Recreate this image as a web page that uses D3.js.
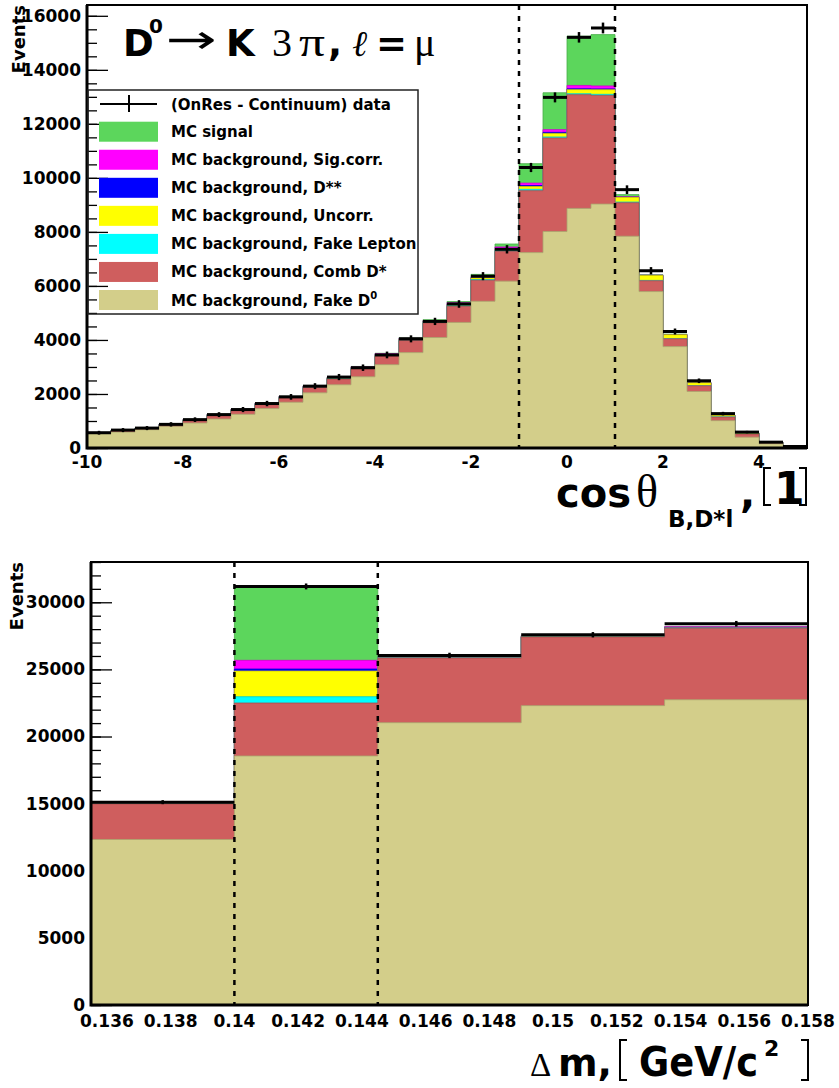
<!DOCTYPE html>
<html>
<head>
<meta charset="utf-8">
<script src="https://cdn.jsdelivr.net/npm/d3@7"></script>
<style>
  body { margin: 0; background: #fff; }
</style>
</head>
<body>
<div id="chart"></div>
<script>

//---- top panel: cos theta_B,D*l (bins of 0.5)
var cosEdges = [-10, -9.5, -9, -8.5, -8, -7.5, -7, -6.5, -6, -5.5, -5, -4.5, -4, -3.5, -3, -2.5,
                -2, -1.5, -1, -0.5, 0, 0.5, 1, 1.5, 2, 2.5, 3, 3.5, 4, 4.5, 5];
var cosData    = [566, 663, 737, 875, 1050, 1236, 1423, 1646, 1892, 2290, 2626, 2973, 3445, 4041, 4686,
                  5332, 6362, 7356, 10384, 12980, 15203, 15549, 9564, 6562, 4313, 2488, 1273, 589, 216, 56];
var cosErr     = [70, 75, 75, 80, 85, 90, 95, 100, 105, 110, 115, 120, 125, 130, 135,
                  140, 150, 155, 170, 185, 195, 200, 160, 135, 110, 85, 65, 45, 30, 20];
var cosFakeD0  = [528, 589, 677, 800, 924, 1074, 1248, 1459, 1695, 2042, 2340, 2637, 3085, 3531, 4090,
                  4650, 5432, 6177, 7233, 8014, 8871, 9031, 7840, 5791, 3754, 2093, 1013, 402, 156, 40];
var cosCombDs  = [28, 60, 48, 60, 106, 140, 152, 160, 170, 200, 211, 290, 320, 450, 540,
                  595, 781, 1104, 2294, 3464, 4209, 4023, 1240, 399, 287, 209, 134, 112, 42, 10];
var cosFakeLep = [3, 4, 4, 5, 6, 6, 7, 8, 8, 10, 12, 14, 16, 18, 20,
                  22, 24, 30, 50, 38, 37, 40, 26, 15, 13, 8, 6, 4, 2, 1];
var cosUncorr  = [4, 5, 5, 6, 8, 10, 12, 14, 16, 18, 20, 24, 28, 40, 40,
                  40, 60, 60, 100, 130, 150, 170, 175, 180, 140, 105, 55, 35, 12, 3];
var cosDss     = [1, 1, 2, 2, 2, 3, 3, 3, 4, 4, 5, 6, 8, 8, 10,
                  10, 10, 12, 40, 40, 30, 30, 5, 3, 2, 1, 1, 1, 0, 0];
var cosSigCorr = [3, 4, 5, 6, 8, 10, 12, 14, 18, 16, 18, 30, 30, 20, 20,
                  60, 40, 60, 90, 100, 125, 110, 20, 8, 5, 3, 2, 1, 1, 0];
var cosSignal  = [2, 3, 4, 5, 6, 8, 9, 10, 12, 14, 16, 18, 20, 24, 30,
                  44, 80, 110, 720, 1366, 1825, 1900, 75, 20, 15, 10, 10, 8, 4, 2];
var cosCuts = [-1, 1];
var cosYTicks = [0, 2000, 4000, 6000, 8000, 10000, 12000, 14000, 16000];
var cosXTicks = [-10, -8, -6, -4, -2, 0, 2, 4];

//---- bottom panel: delta m
var dmEdges    = [0.1355, 0.14, 0.1445, 0.149, 0.1535, 0.158];
var dmData     = [15110, 31180, 26040, 27580, 28400];
var dmErr      = [150, 220, 200, 200, 210];
var dmFakeD0   = [12330, 18550, 21030, 22300, 22740];
var dmCombDs   = [2650, 3945, 4810, 5110, 5330];
var dmFakeLep  = [0, 470, 5, 5, 5];
var dmUncorr   = [0, 1910, 10, 10, 10];
var dmDss      = [0, 150, 5, 10, 10];
var dmSigCorr  = [10, 650, 10, 60, 80];
var dmSignal   = [10, 5500, 60, 20, 20];
var dmCuts = [0.14, 0.1445];
var dmYTicks = [0, 5000, 10000, 15000, 20000, 25000, 30000];
var dmXTicks = [0.136, 0.138, 0.14, 0.142, 0.144, 0.146, 0.148, 0.15, 0.152, 0.154, 0.156, 0.158];

// stack order, bottom -> top
var layerColors = ["#d3ce8a", "#cf5e5e", "#00ffff", "#ffff00", "#0000ff", "#ff00ff", "#5cd65c"];
var legItems = ["MC signal", "MC background, Sig.corr.", "MC background, D**", "MC background, Uncorr.",
                "MC background, Fake Lepton", "MC background, Comb D*", "MC background, Fake D"];

var SANS = "DejaVu Sans", SERIF = "Liberation Serif";

var svg = d3.select("#chart").append("svg")
            .attr("width", 839)
            .attr("height", 1088)
            .attr("font-family", SANS)
            .attr("font-weight", "bold");

function histPanel(opt) {
  var x = d3.scaleLinear().domain(opt.xDomain).range([opt.left, opt.right]);
  var y = d3.scaleLinear().domain(opt.yDomain).range([opt.bottom, opt.top]);
  var g = svg.append("g");
  var n = opt.data.length;

  //minor + major y ticks, drawn first so the fills hide them
  var minor = g.append("g")
     .attr("transform", "translate(" + opt.left + ",0)")
     .call(d3.axisLeft(y).ticks(opt.minorCount).tickSize(-10).tickFormat(""));
  minor.select(".domain").remove();

  var major = g.append("g")
     .attr("transform", "translate(" + opt.left + ",0)")
     .call(d3.axisLeft(y).tickValues(opt.yTicks).tickSize(-21).tickPadding(6).tickFormat(d3.format("d")));
  major.select(".domain").remove();
  major.attr("font-family", null).attr("font-size", null);
  major.selectAll("text").attr("font-size", "17px").attr("fill", "#000");
  g.selectAll(".tick line").attr("stroke", "#000").attr("stroke-width", 1.3);

  //cumulative sums for the stack
  var cum = [];
  var run = opt.data.map(function() { return 0; });
  opt.layers.forEach(function(arr) {
    run = run.map(function(r, i) { return r + arr[i]; });
    cum.push(run.slice());
  });

  var area = d3.area()
     .x(function(d) { return x(d[0]); })
     .y0(y(0))
     .y1(function(d) { return y(d[1]); });

  //draw from the full stack down, each filled from zero (like THStack)
  for (var k = cum.length - 1; k >= 0; k--) {
    var pts = [];
    for (var i = 0; i < n; i++) {
      pts.push([opt.edges[i], cum[k][i]]);
      pts.push([opt.edges[i + 1], cum[k][i]]);
    }
    g.append("path")
     .attr("d", area(pts))
     .attr("fill", layerColors[k])
     .attr("stroke", d3.color(layerColors[k]).darker(0.6))
     .attr("stroke-width", 0.8);
  }

  //data points
  var idx = d3.range(n);
  g.selectAll(".hbar").data(idx).enter().append("line")
   .attr("x1", function(i) { return x(opt.edges[i]); })
   .attr("x2", function(i) { return x(opt.edges[i + 1]); })
   .attr("y1", function(i) { return y(opt.data[i]); })
   .attr("y2", function(i) { return y(opt.data[i]); })
   .attr("stroke", "#000").attr("stroke-width", 3);
  g.selectAll(".vbar").data(idx).enter().append("line")
   .attr("x1", function(i) { return x((opt.edges[i] + opt.edges[i + 1]) / 2); })
   .attr("x2", function(i) { return x((opt.edges[i] + opt.edges[i + 1]) / 2); })
   .attr("y1", function(i) { return y(opt.data[i] - opt.err[i]); })
   .attr("y2", function(i) { return y(opt.data[i] + opt.err[i]); })
   .attr("stroke", "#000").attr("stroke-width", 2.5);

  //cut lines
  g.selectAll(".cut").data(opt.cuts).enter().append("line")
   .attr("x1", function(d) { return x(d); })
   .attr("x2", function(d) { return x(d); })
   .attr("y1", opt.top)
   .attr("y2", opt.bottom)
   .attr("stroke", "#000").attr("stroke-width", 2.5)
   .attr("stroke-dasharray", "5,6");

  //frame
  g.append("rect")
   .attr("x", opt.left).attr("y", opt.top)
   .attr("width", opt.right - opt.left).attr("height", opt.bottom - opt.top)
   .attr("fill", "none").attr("stroke", "#000").attr("stroke-width", 2);
  g.append("path")
   .attr("d", "M" + opt.left + "," + opt.top + "V" + opt.bottom + "H" + opt.right)
   .attr("fill", "none").attr("stroke", "#000").attr("stroke-width", 3);

  //x labels
  g.selectAll(".xl").data(opt.xTicks).enter().append("text")
   .attr("x", function(d) { return x(d); })
   .attr("y", opt.xLabelY)
   .attr("text-anchor", "middle")
   .attr("font-size", opt.xLabelSize)
   .text(function(d) { return String(d); });

  //Events
  g.append("text")
   .attr("transform", "translate(" + opt.evX + "," + opt.top + ") rotate(-90)")
   .attr("text-anchor", "end")
   .attr("font-size", "18px")
   .text("Events");

  return { x: x, y: y, g: g };
}

histPanel({
  left: 87, right: 807, top: 5, bottom: 448,
  xDomain: [-10, 5], yDomain: [0, 16400],
  edges: cosEdges, data: cosData, err: cosErr,
  layers: [cosFakeD0, cosCombDs, cosFakeLep, cosUncorr, cosDss, cosSigCorr, cosSignal],
  cuts: cosCuts, yTicks: cosYTicks, minorCount: 32,
  xTicks: cosXTicks, xLabelY: 468, xLabelSize: "17px", evX: 25
});

histPanel({
  left: 91, right: 808, top: 562, bottom: 1005,
  xDomain: [0.1355, 0.158], yDomain: [0, 33000],
  edges: dmEdges, data: dmData, err: dmErr,
  layers: [dmFakeD0, dmCombDs, dmFakeLep, dmUncorr, dmDss, dmSigCorr, dmSignal],
  cuts: dmCuts, yTicks: dmYTicks, minorCount: 33,
  xTicks: dmXTicks, xLabelY: 1027, xLabelSize: "17px", evX: 23
});

//---- title
var t = svg.append("g");
function tt(x, y, size, str, fam, weight, style) {
  return t.append("text").attr("x", x).attr("y", y).attr("font-size", size)
          .attr("font-family", fam || SANS).attr("font-weight", weight || "bold")
          .attr("font-style", style || "normal").text(str);
}
tt(123, 56, "37px", "D");
tt(149, 33, "20px", "0");
tt(166, 53, "40px", "\u2192", SANS, "normal").attr("textLength", 51).attr("lengthAdjust", "spacingAndGlyphs");
tt(226, 56, "37px", "K");
tt(272, 56, "40px", "3", SERIF, "normal");
tt(299, 56, "40px", "\u03c0", SERIF, "normal").attr("textLength", 26).attr("lengthAdjust", "spacingAndGlyphs");
tt(328, 56, "37px", ",");
tt(352, 56, "36px", "\u2113", SERIF, "normal", "italic");
tt(376, 56, "37px", "=");
tt(414, 56, "40px", "\u03bc", SERIF, "normal");

//---- legend
var leg = svg.append("g");
leg.append("rect").attr("x", 88).attr("y", 90).attr("width", 330).attr("height", 224)
   .attr("fill", "none").attr("stroke", "#222").attr("stroke-width", 1.5);
leg.append("line").attr("x1", 100).attr("x2", 157).attr("y1", 104).attr("y2", 104)
   .attr("stroke", "#000").attr("stroke-width", 2);
leg.append("line").attr("x1", 129).attr("x2", 129).attr("y1", 95).attr("y2", 112)
   .attr("stroke", "#000").attr("stroke-width", 2);
leg.append("text").attr("x", 171).attr("y", 109.5).attr("font-size", "15px").text("(OnRes - Continuum) data");
legItems.forEach(function(name, i) {
  var cy = 131.7 + i * 28.05;
  leg.append("rect").attr("x", 99).attr("y", cy - 10).attr("width", 59).attr("height", 20)
     .attr("fill", layerColors[layerColors.length - 1 - i]);
  var tx = leg.append("text").attr("x", 171).attr("y", cy + 5.5).attr("font-size", "15px").text(name);
  if (i === legItems.length - 1) tx.append("tspan").attr("dy", -7).attr("font-size", "10px").text("0");
});

//---- axis titles
function bracket(x, y1, y2, dir) {
  svg.append("path")
     .attr("d", "M" + (x + dir * 7) + "," + y1 + "H" + x + "V" + y2 + "H" + (x + dir * 7))
     .attr("fill", "none").attr("stroke", "#000").attr("stroke-width", 2);
}
svg.append("text").attr("x", 556).attr("y", 507).attr("font-size", "40px").text("cos");
svg.append("text").attr("x", 636).attr("y", 507).attr("font-size", "46px")
   .attr("font-family", SERIF).attr("font-weight", "normal").text("\u03b8");
svg.append("text").attr("x", 668).attr("y", 527).attr("font-size", "23px").text("B,D*l");
svg.append("text").attr("x", 740).attr("y", 507).attr("font-size", "40px").text(",");
bracket(764, 468, 505, 1);
svg.append("text").attr("x", 774).attr("y", 504).attr("font-size", "44px").text("1");
bracket(806, 468, 505, -1);

svg.append("text").attr("x", 530).attr("y", 1076).attr("font-size", "33px")
   .attr("font-family", SERIF).attr("font-weight", "normal").text("\u0394");
svg.append("text").attr("x", 558).attr("y", 1076).attr("font-size", "38px").text("m,");
bracket(620, 1040, 1080, 1);
svg.append("text").attr("x", 639).attr("y", 1076).attr("font-size", "40px")
   .attr("textLength", 119).attr("lengthAdjust", "spacingAndGlyphs").text("GeV/c");
svg.append("text").attr("x", 764).attr("y", 1056).attr("font-size", "22px").text("2");
bracket(808, 1040, 1080, -1);

</script>
</body>
</html>
